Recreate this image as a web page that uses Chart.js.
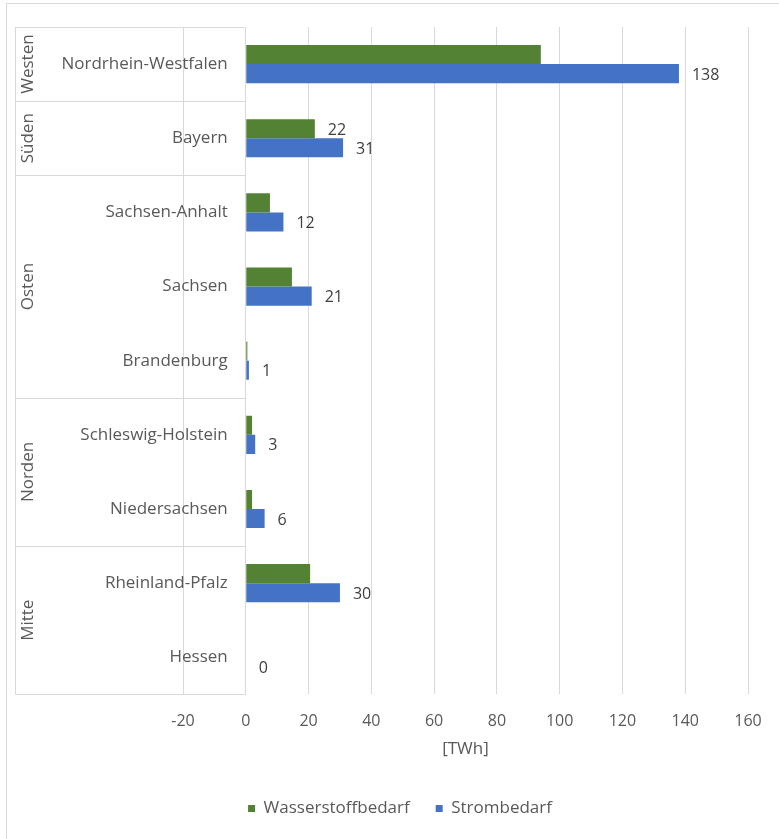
<!DOCTYPE html>
<html>
<head>
<meta charset="utf-8">
<script src="https://cdn.jsdelivr.net/npm/chart.js@4"></script>
<style>
  body { margin: 0; background: #fff; }
  #wrap { position: relative; width: 779px; height: 839px; }
</style>
</head>
<body>
<div id="wrap"><canvas id="demandChart"></canvas></div>
<script>
// Bundeslaender, top to bottom, grouped by region
const states = ['Nordrhein-Westfalen', 'Bayern', 'Sachsen-Anhalt', 'Sachsen', 'Brandenburg',
    'Schleswig-Holstein', 'Niedersachsen', 'Rheinland-Pfalz', 'Hessen'];
const regions = ['Westen', 'Süden', 'Osten', 'Norden', 'Mitte'];
const regionSizes = [1, 1, 3, 2, 2];

// demand in TWh
const hydrogenDemand = [94, 22, 7.7, 14.7, 0.5, 2, 2, 20.5, 0];
const powerDemand = [138, 31, 12, 21, 1, 3, 6, 30, 0];
const labelledHydrogen = ['Bayern'];

const xTicks = { min: -20, max: 160, step: 20 };

const fontFamily = "'Open Sans', sans-serif";
const textColor = '#595959';
const lineColor = '#d9d9d9';

// left-hand table: state names, region names and separators
const regionTable = {
    id: 'regionTable',
    afterDraw(chart) {
        const ctx = chart.ctx;
        const area = chart.chartArea;
        const y = chart.scales.y;
        const zeroX = chart.scales.x.getPixelForValue(0);
        const band = (area.bottom - area.top) / states.length;
        const left = 15.5;

        ctx.save();
        // outer frame
        ctx.strokeStyle = lineColor;
        ctx.lineWidth = 1;
        ctx.strokeRect(6.5, 3.5, 900, 900);

        ctx.beginPath();
        ctx.moveTo(left, area.top);
        ctx.lineTo(left, area.bottom);
        let idx = 0;
        const bounds = [area.top];
        regionSizes.forEach(n => {
            idx += n;
            bounds.push(y.getPixelForValue(idx - 1) + band / 2);
        });
        bounds.forEach(b => {
            const yy = Math.round(b) + 0.5;
            ctx.moveTo(left, yy);
            ctx.lineTo(zeroX, yy);
        });
        ctx.stroke();

        ctx.fillStyle = textColor;
        ctx.font = '17px ' + fontFamily;
        ctx.textBaseline = 'middle';

        ctx.textAlign = 'right';
        states.forEach((name, i) => {
            ctx.fillText(name, zeroX - 18, y.getPixelForValue(i));
        });

        ctx.textAlign = 'center';
        regions.forEach((name, i) => {
            const mid = (bounds[i] + bounds[i + 1]) / 2;
            ctx.save();
            ctx.translate(28, mid);
            ctx.rotate(-Math.PI / 2);
            ctx.fillText(name, 0, 0);
            ctx.restore();
        });
        ctx.restore();
    }
};

// value labels next to the bars
const valueLabels = {
    id: 'valueLabels',
    afterDatasetsDraw(chart) {
        const ctx = chart.ctx;
        ctx.save();
        ctx.font = '16px ' + fontFamily;
        ctx.fillStyle = '#404040';
        ctx.textAlign = 'left';
        ctx.textBaseline = 'middle';
        chart.getDatasetMeta(1).data.forEach((bar, i) => {
            ctx.fillText(Math.round(powerDemand[i]), bar.x + 13, bar.y + 1.5);
        });
        chart.getDatasetMeta(0).data.forEach((bar, i) => {
            if (labelledHydrogen.includes(states[i])) {
                ctx.fillText(Math.round(hydrogenDemand[i]), bar.x + 13, bar.y + 1.5);
            }
        });
        ctx.restore();
    }
};

function createChart() {
    const ctx = document.getElementById('demandChart').getContext('2d');
    return new Chart(ctx, {
        type: 'bar',
        data: {
            labels: states,
            datasets: [
                {
                    label: 'Wasserstoffbedarf',
                    data: hydrogenDemand,
                    backgroundColor: '#548235',
                    categoryPercentage: 0.515,
                    barPercentage: 1
                },
                {
                    label: 'Strombedarf',
                    data: powerDemand,
                    backgroundColor: '#4472C4',
                    categoryPercentage: 0.515,
                    barPercentage: 1
                }
            ]
        },
        options: {
            indexAxis: 'y',
            responsive: true,
            maintainAspectRatio: false,
            animation: false,
            layout: { padding: { top: 27, left: 52, right: 31, bottom: 12 } },
            scales: {
                x: {
                    min: xTicks.min,
                    max: xTicks.max,
                    ticks: {
                        stepSize: xTicks.step,
                        padding: 17,
                        color: textColor,
                        font: { family: fontFamily, size: 16 }
                    },
                    grid: { color: lineColor, drawTicks: false },
                    border: { display: false },
                    title: {
                        display: true,
                        text: '[TWh]',
                        color: textColor,
                        font: { family: fontFamily, size: 17 },
                        padding: { top: -9, bottom: 15 }
                    }
                },
                y: {
                    ticks: { display: false },
                    grid: { display: false },
                    border: { display: false },
                    afterFit(scale) {
                        scale.width = 131;
                    }
                }
            },
            plugins: {
                legend: {
                    position: 'bottom',
                    labels: {
                        boxWidth: 7,
                        boxHeight: 7,
                        padding: 26,
                        color: textColor,
                        font: { family: fontFamily, size: 17 }
                    }
                },
                tooltip: { enabled: false }
            }
        },
        plugins: [regionTable, valueLabels]
    });
}

document.addEventListener('DOMContentLoaded', createChart);
</script>
</body>
</html>
